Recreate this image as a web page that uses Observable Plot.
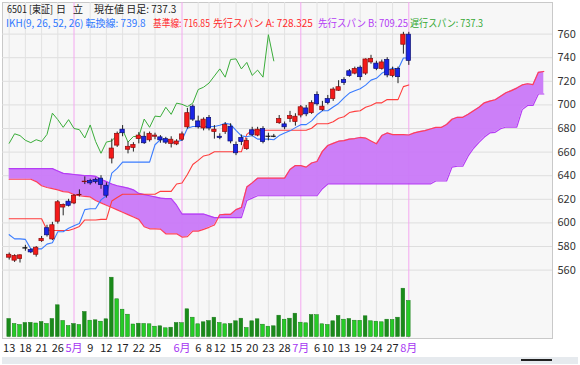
<!DOCTYPE html>
<html><head><meta charset="utf-8">
<script src="https://cdn.jsdelivr.net/npm/d3@7"></script>
<script src="https://cdn.jsdelivr.net/npm/@observablehq/plot@0.6"></script>
<style>
html,body{margin:0;padding:0;background:#fff;}
#chart{position:relative;width:580px;height:365px;overflow:hidden;font-family:"Noto Sans CJK JP","Noto Sans",sans-serif;}
#chart svg{position:absolute;left:0;top:0;}
.lg{position:absolute;font-size:10px;white-space:pre;line-height:11px;transform-origin:0 50%;}
</style></head><body><div id="chart"></div>
<script>
// ---- data (index 0 = first trading day shown) ----
const opens  = [570.5,568,569.5,578.2,577,573,584.5,595.5,586,601,613,618,616.5,623.3,634.5,635.5,636.5,637.5,631.5,654.5,665.5,679,662,663.5,671,673,670,673,672.5,671,667,666.5,670.5,681,698.5,686,680,689,677,673,677,681.5,666,672,662.5,678.5,674,679.5,672.8,672.8,684.5,683.5,688,685.5,691,697,693,708.5,695.5,705,705,712,721,728.5,726.5,731.5,726.5,736,735,730.5,738,724.5,730.5,751,759.5];
const highs  = [574.5,573,573,581,578,580,588.5,598,600.5,619,616,620,624,628,639,637,638,640,634,671,677,682.5,668.5,668,676.5,677,677,676,674,672.5,673,670.5,677,697,700,690.5,689,691,682.5,675.5,685,684,668.5,674.5,671.5,681,681,681.5,676,675,691,685.5,694.5,692.5,699.5,699.5,703.5,711,703,708,714.5,720.5,723,730,732,733,739,742,737,738,740,732,732,761.5,761.5];
const lows   = [568.5,566.5,566,576,574,571,583.5,588,585,599,606,613.5,615.5,622,632.5,632,633,628.5,621,650,664,673,658.5,660,667,666.5,668.5,670.5,667.5,666.5,663.5,665.5,669,679.5,686,679.5,678,678,671,670.5,675,667,657,665.5,661.5,673,673,667,669.5,672.2,683.5,679,685,682,689,690,692,699,694.5,700,703,711.5,716.5,723.5,725.5,720.5,725,734.5,729,729.5,723,723,718,743,733.5];
const closes = [573,572,572.5,578.6,575,579,586.5,589.5,598,617.5,615.3,614.5,623,623.8,635,633.5,634.5,632,623,663,675.5,676,664.5,666,674,667.5,675.5,674,670,668,670.5,669,675,693,687.5,681,687.5,680,679,672,683,669,659,668.5,669.5,674.5,679,668.5,673.2,673.2,688,681,690.5,690,698,692,701.5,700.5,698.5,701.5,713,715,718.5,724.5,730.5,723.5,738.5,739,730.5,736,725,729.5,723.5,759.5,737.3];
const volumes = [1800,1300,1200,1400,1420,1350,1500,1300,1800,3170,1600,1100,1300,1200,2500,1630,1670,1530,1770,5930,3770,2730,2230,1250,1330,1300,1270,1030,1070,870,930,1400,1380,2770,1930,1270,1470,1600,1930,1400,1270,1300,1570,1830,900,1570,1770,1230,1030,1070,2130,1730,1830,2330,1430,1370,2200,2180,1270,1200,1570,2100,1730,1800,1630,1620,2070,1570,1530,1470,1730,1700,1930,4830,3600];
const tenkan = [590,586.5,586.5,586,578,578,578,582,583.25,592.5,592.5,595.5,597.5,599.5,611.25,612,612,619.5,623,642.25,646.25,651.5,651.5,651.5,651.5,651.5,651.5,666.25,670.5,670.5,667.75,668.5,670.25,680.25,681.75,681.75,681.75,681.75,681.75,682.75,684.5,683.5,678.5,673.75,673,674,671,671,671,670.5,674,676.25,678,680.75,683.25,683.25,686.5,691.6,695,695,698.25,701.25,706,710,712,713.75,716.75,721,722.5,726.75,729.25,731.25,730,739.75,739.8];
const kijun = [603.5,603.5,603.5,603.5,603.5,603.5,603.5,594,593.5,593.5,593.5,593.5,595,597,602.5,602.5,602.5,603,603,618.5,621.5,624.25,624.25,624.25,624.25,624.25,624.25,624.25,626.75,626.75,626.75,633,633.75,641,649.5,653,656.75,657.75,660.25,660.25,660.25,660.25,660.25,660.25,675,678.5,678.5,678.5,678.5,678.5,678.5,678.5,678.5,678.5,678.5,678.5,680.25,684,684,684,685.75,688.75,690,693.5,694.5,695,698,699.5,701.75,701.75,704.5,704.5,704.5,715.5,716.85];
const spanA = [637,637,637,637,637,635,631.5,630,629,628,626.5,626,624,623,622.5,622,619,617,615,613,611,609,607,605,603,596.75,595,595,594.75,590.75,590.75,590.75,588,588.4,593,593,594.5,596.25,598.25,606.9,607.25,607.25,611.25,613,630.4,633.9,637.9,637.9,637.9,637.9,637.9,637.9,645.25,648.6,648.6,647.25,650.75,652,660.6,665.6,667.4,669.25,669.75,671,671.5,672.4,671.9,669.4,667,674,676.25,674.75,674.75,674.75,674.5,676.25,677.4,678.25,679.6,680.9,680.9,683.4,687.8,689.5,689.5,692,695,698,701.75,703.25,704.4,707.4,710.25,712.1,714.25,716.9,717.9,717.25,727.6,728.325];
const spanB = [646,646,646,646,646,646,646,646,646,644,642,641.5,641,640.5,640,640,639.5,637,635,633,631.5,630.5,629.5,628,625,624,623,622,621,620.5,620.5,615,607.5,607.5,607.5,607.5,607.5,606,604.5,604.5,604.5,604.5,604.5,604.5,619,621,623,623,623,623,623,623,623,623,623,623,623,623,629,633,633,633,633,633,633,633,633,633,633,633,633,633,633,633,633,633,633,633,633,635.5,635.5,635.5,647.25,648,648,656.75,663.25,668.25,672.75,676.25,676.75,679.75,681.25,681.25,681.25,696,699.5,699.5,709.25,709.25];
const priceTicks = [560,580,600,620,640,660,680,700,720,740,760];
const dayTicks  = [0,3,6,9,15,18,21,24,27,35,37,39,42,45,48,51,57,59,62,65,68,71];
const dayLabels = ["13","18","21","26","9","12","17","22","25","6","8","12","15","20","23","28","6","10","13","19","24","27"];
const monthTicks  = [12,32,54,74];
const monthLabels = ["5月","6月","7月","8月"];
const chikouShift = 25;

// ---- tables built from the arrays ----
const candles = opens.map((o,i)=>({k:i,o,h:highs[i],l:lows[i],c:closes[i],v:volumes[i],t:tenkan[i],kj:kijun[i]}));
const cloud = spanA.map((a,i)=>({k:i,a,b:spanB[i]}));
const chikou = closes.slice(chikouShift).map((v,i)=>({k:i,v}));

const W=580,H=365;
const xOpt = {type:"linear", domain:[0,100], range:[8.7,548.7]};
const margins = {marginLeft:2, marginRight:28, marginTop:2, marginBottom:27};
const bodyColor = d => Math.abs(d.c-d.o) < 0.5 ? "#111" : (d.c > d.o ? "#f41a1a" : "#1a24e6");
const bodyStroke = d => Math.abs(d.c-d.o) < 0.5 ? "#111" : (d.c > d.o ? "#8a0c0c" : "#0c1070");

const price = Plot.plot({
  width:W, height:H, ...margins,
  style:{background:"transparent", fontFamily:'"Noto Sans CJK JP","Noto Sans",sans-serif', fontSize:"10px"},
  x:xOpt, y:{domain:[560,760], range:[269.6,33.6]},
  color:{type:"identity"},
  marks:[
    Plot.frame({fill:"#f7f7f7", stroke:"#c9c9c9"}),
    Plot.gridY(priceTicks, {stroke:"#dedede", strokeOpacity:1}),
    Plot.ruleX(dayTicks, {stroke:"#e2e2e2"}),
    Plot.ruleX(monthTicks, {stroke:"#f4a8f0"}),
    Plot.areaY(cloud, {x:"k", y1:"a", y2:"b", fill:"#c978f8", fillOpacity:0.95}),
    Plot.lineY(cloud, {x:"k", y:"b", stroke:"#b53cf5", strokeWidth:1.2}),
    Plot.lineY(cloud, {x:"k", y:"a", stroke:"#ff3f5a", strokeWidth:1.2}),
    Plot.lineY(candles, {x:"k", y:"kj", stroke:"#ff3d3d", strokeWidth:1.1}),
    Plot.lineY(candles, {x:"k", y:"t", stroke:"#3a7cff", strokeWidth:1.1}),
    Plot.lineY(chikou, {x:"k", y:"v", stroke:"#3aad3a", strokeWidth:1}),
    Plot.ruleX(candles, {x:"k", y1:"l", y2:"h", stroke:"#222", strokeWidth:1}),
    Plot.rect(candles, {x1:d=>d.k-0.4, x2:d=>d.k+0.4, y1:"o", y2:"c", fill:bodyColor, stroke:bodyStroke, strokeWidth:0.7}),
    Plot.axisY(priceTicks, {anchor:"right", tickSize:0, tickPadding:5, textAnchor:"start", label:null, fill:"#333", fontSize:11}),
    Plot.axisX(dayTicks, {tickSize:0, tickPadding:6, label:null, fill:"#222", fontSize:11, tickFormat:d=>dayLabels[dayTicks.indexOf(d)]}),
    Plot.axisX(monthTicks, {tickSize:0, tickPadding:6, label:null, fill:"#a637f2", fontSize:11, tickFormat:d=>monthLabels[monthTicks.indexOf(d)]})
  ]
});

const vol = Plot.plot({
  width:W, height:H, ...margins,
  style:{background:"transparent"},
  x:{...xOpt, axis:null}, y:{domain:[0,6000], range:[336.5,276.5], axis:null},
  color:{type:"identity"},
  marks:[
    Plot.rect(candles, {x1:d=>d.k-0.34, x2:d=>d.k+0.34, y1:0, y2:"v",
      fill:(d,i)=> (i===0 || d.v>=volumes[i-1]) ? "#1b8a1b" : "#26cc26", stroke:"#187818", strokeWidth:0.5})
  ]
});

const chart = document.getElementById("chart");
chart.appendChild(price);
chart.appendChild(vol);

// scrollbar strip under the axis
const sb = document.createElement("div");
sb.style.cssText = "position:absolute;left:2px;top:357px;width:576px;height:7px;background:#e6eaee;";
chart.appendChild(sb);
const th = document.createElement("div");
th.style.cssText = "position:absolute;left:521px;top:359px;width:31px;height:2px;background:#222;";
chart.appendChild(th);

// legend: text, left edge, top, colour, available width
const legend = [
  {x:7,   y:2.5, w:46,  c:"#222",    t:"6501 [東証]"},
  {x:56,  y:2.5, w:11,  c:"#222",    t:"日"},
  {x:73,  y:2.5, w:11,  c:"#222",    t:"立"},
  {x:94,  y:2.5, w:95,  c:"#222",    t:"現在値 日足: 737.3"},
  {x:6,   y:16.5, w:144, c:"#2f78ff", t:"IKH(9, 26, 52, 26) 転換線: 739.8"},
  {x:153, y:16.5, w:57,  c:"#ff2a2a", t:"基準線: 716.85"},
  {x:213, y:16.5, w:102, c:"#ff2a2a", t:"先行スパン A: 728.325"},
  {x:318, y:16.5, w:90,  c:"#b43cf5", t:"先行スパン B: 709.25"},
  {x:410, y:16.5, w:73,  c:"#35a835", t:"遅行スパン: 737.3"}
];
for (const L of legend) {
  const d = document.createElement("div");
  d.className = "lg";
  d.style.left = L.x+"px"; d.style.top = L.y+"px"; d.style.color = L.c;
  d.textContent = L.t;
  chart.appendChild(d);
  const w = d.getBoundingClientRect().width;
  if (w > L.w) d.style.transform = `scaleX(${(L.w/w).toFixed(3)})`;
}
</script></body></html>
